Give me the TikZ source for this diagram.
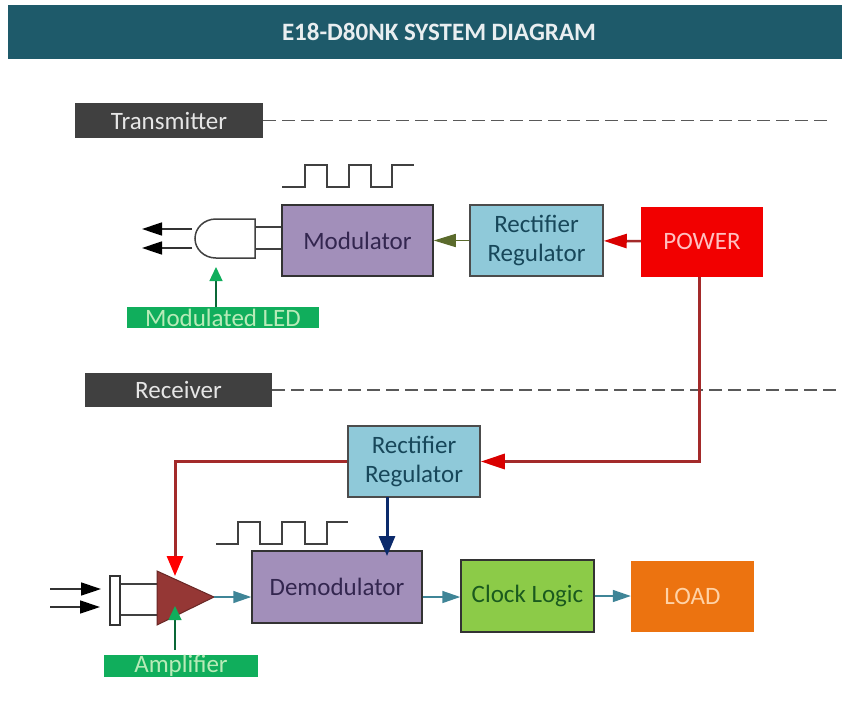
\documentclass[tikz,border=0pt]{standalone}
\usepackage{fontspec}
\setmainfont{Carlito}
\usetikzlibrary{arrows.meta,calc}
\definecolor{hdr}{HTML}{1E5A6A}
\definecolor{dark}{HTML}{404040}
\definecolor{purp}{HTML}{A28FBA}
\definecolor{lblue}{HTML}{8FC9D9}
\definecolor{lgreen}{HTML}{8CCB48}
\definecolor{orng}{HTML}{EC7310}
\definecolor{grn}{HTML}{10AE5C}
\definecolor{teal2}{HTML}{3F8597}
\definecolor{olive2}{HTML}{5B6B2C}
\definecolor{navy2}{HTML}{0B2A6B}
\definecolor{brown2}{HTML}{953735}
\definecolor{redl}{HTML}{A32A2A}
\definecolor{lighttxt}{HTML}{E6E6E6}
\definecolor{purptxt}{HTML}{33264F}
\definecolor{bluetxt}{HTML}{17475A}
\definecolor{greentxt}{HTML}{1A5A1E}
\tikzset{
 x=1pt,y=-1pt,
 boxn/.style={draw=#1,line width=1.5pt,inner sep=0pt,align=center,font=\fontsize{25}{29}\selectfont},
 tag/.style={fill=dark,inner sep=0pt,text=lighttxt,font=\fontsize{25}{29}\selectfont},
 gtag/.style={fill=grn,inner sep=0pt,text=green!20!lighttxt,font=\fontsize{25}{29}\selectfont},
 wire/.style={draw=black!75,line width=1.5pt},
 dash2/.style={draw=black!65,line width=1.1pt,dash pattern=on 13pt off 6pt},
 teala/.style={draw=teal2,line width=1.5pt,-{Triangle[length=18pt,width=12pt]}},
 blacka/.style={draw=black!80,line width=1.5pt,-{Triangle[length=20pt,width=13pt,color=black]}},
 reda/.style={draw=redl,line width=3pt},
 grna/.style={draw=grn!60!black,line width=1.3pt,-{Triangle[length=14pt,width=13pt,color=grn]}},
}
\begin{document}
\begin{tikzpicture}
\useasboundingbox (0,0) rectangle (842,704);
\fill[white] (0,0) rectangle (842,704);
\node[fill=hdr,minimum width=834pt,minimum height=54pt,inner sep=0pt,text=white!90!hdr,font=\fontsize{25}{29}\selectfont\bfseries] (title) at (425,32) {\hspace*{28pt}E18-D80NK SYSTEM DIAGRAM};
% section tags
\node[tag,minimum width=188pt,minimum height=35pt] (tx) at (169,120.5) {Transmitter};
\node[tag,minimum width=187pt,minimum height=34pt] (rx) at (178.5,390) {Receiver};
\coordinate (txend) at (833,120.5);
\coordinate (rxend) at (842,390);
\draw[dash2] (tx.east) -- (txend);
\draw[dash2] (rx.east) -- (rxend);
% blocks
\node[boxn=black!80,fill=purp,text=purptxt,minimum width=151pt,minimum height=71pt] (mod) at (357.5,240.5) {Modulator};
\node[boxn=black!70,fill=lblue,text=bluetxt,minimum width=133pt,minimum height=71pt] (rect1) at (536.5,240.5) {Rectifier\\Regulator};
\node[fill=red!95!black,inner sep=0pt,minimum width=122pt,minimum height=70pt,text=red!25!white,font=\fontsize{25}{29}\selectfont] (power) at (702,241.5) {POWER};
\node[boxn=black!70,fill=lblue,text=bluetxt,minimum width=132pt,minimum height=71pt] (rect2) at (414,461.5) {Rectifier\\Regulator};
\node[boxn=black!80,fill=purp,text=purptxt,minimum width=170pt,minimum height=72pt] (demod) at (337,587) {Demodulator};
\node[boxn=black!80,fill=lgreen,text=greentxt,minimum width=133pt,minimum height=72pt] (clock) at (527.5,596) {Clock Logic};
\node[fill=orng,inner sep=0pt,minimum width=123pt,minimum height=71pt,text=orange!35!white,font=\fontsize{25}{29}\selectfont] (load) at (692.5,596.5) {LOAD};
\node[gtag,minimum width=192pt,minimum height=21pt] (ledtag) at (223,317.5) {Modulated LED};
\node[gtag,minimum width=154pt,minimum height=22pt] (amptag) at (181,666) {Amplifier};
% pulses
\draw[wire] (282,187) -- (305,187) -- (305,165) -- (327,165) -- (327,187) -- (349,187) -- (349,165) -- (371,165) -- (371,187) -- (392,187) -- (392,165) -- (414,165);
\draw[wire] (216,544) -- (238,544) -- (238,522) -- (260,522) -- (260,544) -- (282,544) -- (282,522) -- (305,522) -- (305,544) -- (327,544) -- (327,522) -- (348,522);
% LED
\draw[wire,fill=white] (255,219) -- (216,219) .. controls (204,219) and (195,228) .. (195,238.5) .. controls (195,249) and (204,258) .. (216,258) -- (255,258) -- cycle;
\coordinate (w1) at (255,227);
\coordinate (w2) at (255,249);
\draw[wire] (w1) -- (mod.west |- w1);
\draw[wire] (w2) -- (mod.west |- w2);
\coordinate (l1) at (192,229);\coordinate (l1e) at (142,229);
\coordinate (l2) at (192,248);\coordinate (l2e) at (142,248);
\draw[blacka] (l1) -- (l1e);
\draw[blacka] (l2) -- (l2e);
% detector and amplifier
\node[draw=black!80,line width=1.5pt,fill=white,minimum width=10pt,minimum height=49pt,inner sep=0pt] (bar) at (115,600.5) {};
\coordinate (a1) at (157,584);
\coordinate (a2) at (157,615);
\draw[wire] (bar.east |- a1) -- (a1);
\draw[wire] (bar.east |- a2) -- (a2);
\draw[draw=brown2!70!black,fill=brown2,line width=1pt] (157,571) -- (214,597) -- (157,625) -- cycle;
\coordinate (ampo) at (214,597);
\coordinate (i1) at (50,589);\coordinate (i1e) at (101,589);
\coordinate (i2) at (50,607);\coordinate (i2e) at (100,607);
\draw[blacka] (i1) -- (i1e);
\draw[blacka] (i2) -- (i2e);
% connectors
\draw[draw=olive2,line width=1.6pt,-{Triangle[length=22pt,width=13pt]}] (rect1) -- (mod);
\draw[draw=redl,line width=2.5pt,-{Triangle[length=23pt,width=14pt,color=red!85!black]}] (power) -- (rect1);
\coordinate (pd) at (699,277);
\coordinate (pc) at (699,461.5);
\draw[reda,-{Triangle[length=24pt,width=15pt,color=red!85!black]}] (pd) -- (pc) -- (rect2.east);
\coordinate (rc) at (175,461.5);
\coordinate (re) at (175,576);
\draw[reda,-{Triangle[length=20pt,width=16pt,color=red]}] (rect2.west) -- (rc) -- (re);
\coordinate (ns) at (387,497);
\coordinate (ne) at (387,556);
\draw[draw=navy2,line width=3pt,-{Triangle[length=20pt,width=16pt]}] (ns) -- (ne);
\draw[teala] (ampo) -- (demod.west |- ampo);
\draw[teala] (demod.east |- ampo) -- (clock.west |- ampo);
\draw[teala] (clock.east) -- (load.west |- clock.east);
\coordinate (g1) at (216,307);
\coordinate (g1e) at (216,267);
\draw[grna] (g1) -- (g1e);
\coordinate (g2) at (175,650);
\coordinate (g2e) at (175,606);
\draw[grna] (g2) -- (g2e);
\end{tikzpicture}
\end{document}
